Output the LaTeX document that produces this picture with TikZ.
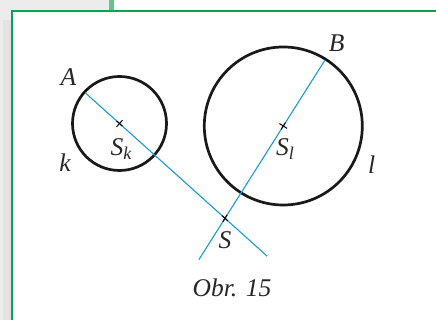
\documentclass[tikz,border=0pt]{standalone}
\usepackage{fontspec}
\setmainfont{Liberation Serif}
\usetikzlibrary{calc}
\definecolor{verde}{HTML}{00A651}
\definecolor{verdeclaro}{HTML}{6CC08B}
\definecolor{gris}{HTML}{EBECEB}
\definecolor{grisosc}{HTML}{E2E3E2}
\definecolor{celeste}{HTML}{1B98D5}
\newcommand{\bod}[2]{\textit{#1}\raisebox{-0.3ex}{\fontsize{18}{20}\selectfont\textit{#2}}}

\begin{document}
\begin{tikzpicture}[x=1pt,y=1pt, kruh/.style={draw=black!90,line width=2.7pt}, primka/.style={draw=celeste,line width=1.1pt}, popis/.style={font=\fontsize{25.5}{29}\selectfont\itshape,text=black!85,inner sep=0pt}, znacka/.style={draw=black,line width=1pt}]
\useasboundingbox (0,0) rectangle (436,320);
% ramecek
\fill[gris] (0,0) rectangle (11,320);
\fill[gris] (0,309) rectangle (110,320);
\fill[grisosc] (3,0) rectangle (11,300);
\fill[verdeclaro] (109,309) rectangle (114,320);
\draw[verde,line width=2.8pt] (12,0) -- (12,309) -- (436,309);
% body
\coordinate (Sk) at (119.5,196.5);
\coordinate (Sl) at (283.3,194);
\coordinate (S) at (225,101.7);
\coordinate (A) at ($(Sk)+(138.1:47)$);
\coordinate (B) at ($(Sl)+(57.7:79)$);
\coordinate (K1) at ($(A)!1.3!(S)$);
\coordinate (K2) at ($(B)!1.26!(S)$);
% kruznice a primky
\draw[kruh] (Sk) circle (47);
\draw[kruh] (Sl) circle (79);
\draw[primka] (A) -- (K1);
\draw[primka] (B) -- (K2);
\foreach \p/\q in {A/S,Sk/S,Sl/B,B/S}
  \draw[znacka] ($(\p)!4.5pt!90:(\q)$) -- ($(\p)!4.5pt!-90:(\q)$);
\foreach \p/\q in {Sk/S,Sl/B,S/B,S/A}
  \draw[znacka] ($(\p)!4pt!(\q)$) -- ($(\p)!-4pt!(\q)$);
% popisky
\node[popis] (lA) at (68.3,243.3) {A};
\node[popis] (lk) at (65,157) {k};
\node[popis] (lSk) at (121,171) {\bod{S}{k}};
\node[popis] (lB) at (336.7,276.7) {B};
\node[popis] (lSl) at (285,171) {\bod{S}{l}};
\node[popis] (ll) at (371.7,155) {l};
\node[popis] (lS) at (225,80) {S};
\node[popis] (obr) at (232,32) {Obr. 15};
\end{tikzpicture}
\end{document}
